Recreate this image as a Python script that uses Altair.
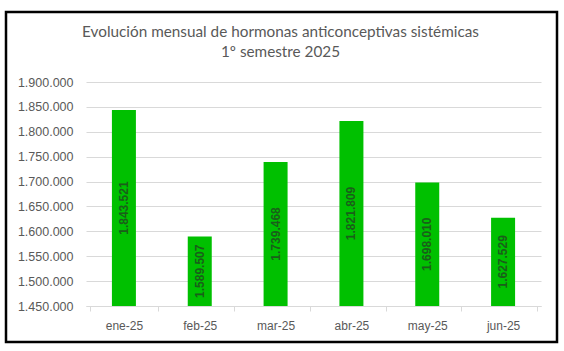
import altair as alt
import pandas as pd

months = ["ene-25", "feb-25", "mar-25", "abr-25", "may-25", "jun-25"]
values = [1843521, 1589507, 1739468, 1821809, 1698010, 1627529]
y_ticks = [1450000, 1500000, 1550000, 1600000, 1650000, 1700000, 1750000, 1800000, 1850000, 1900000]
y_min = 1450000
y_max = 1900000
title_lines = ["Evolución mensual de hormonas anticonceptivas sistémicas", "1º semestre 2025"]

df = pd.DataFrame({"mes": months, "valor": values})

fmt = "replace(format(datum.value, ','), regexp(',', 'g'), '.')"

x_axis = alt.Axis(labelAngle=0, labelFont="Liberation Sans", labelFontSize=12,
                  labelColor="#595959", labelPadding=9, tickBand="extent",
                  tickColor="#d9d9d9", tickSize=5, domainColor="#d9d9d9",
                  domainWidth=1, grid=False, title=None)
y_axis = alt.Axis(values=y_ticks, labelExpr=fmt, labelFont="Liberation Sans",
                  labelFontSize=12.5, labelColor="#595959", labelPadding=13,
                  labelOverlap=False, tickSize=0, domain=False, grid=True,
                  gridColor="#d9d9d9", gridWidth=1, title=None)
y_scale = alt.Scale(domain=[y_min, y_max], nice=False, zero=False)

base = alt.Chart(df)

bars = base.mark_bar(color="#00c000", size=24, clip=True).encode(
    x=alt.X("mes:N", sort=months, axis=x_axis),
    y=alt.Y("valor:Q", scale=y_scale, axis=y_axis),
    y2=alt.datum(y_min),
)

labels = base.transform_calculate(
    mid=f"(datum.valor + {y_min}) / 2",
    txt="replace(format(datum.valor, ','), regexp(',', 'g'), '.')",
).mark_text(angle=270, align="center", baseline="middle", font="Liberation Sans",
            fontSize=12, fontWeight="bold", color="#1a5e1a").encode(
    x=alt.X("mes:N", sort=months, axis=x_axis),
    y=alt.Y("mid:Q", scale=y_scale, axis=y_axis),
    text="txt:N",
)

border = alt.Chart(pd.DataFrame({"a": [0]})).mark_rect(
    fill=None, stroke="black", strokeWidth=2.5, clip=False
).encode(
    x=alt.value(-80), x2=alt.value(471), y=alt.value(-70), y2=alt.value(260)
)

chart = alt.layer(bars, labels, border).properties(
    width=455, height=224,
    title=alt.TitleParams(text=title_lines, font="Lato", fontSize=15.3, fontWeight="normal",
                          color="#595959", anchor="middle", dx=-33, offset=22, dy=72,
                          lineHeight=20, frame="group"),
    autosize=alt.AutoSizeParams(type="none"),
    padding={"left": 86, "top": 82, "right": 23, "bottom": 45},
    background="white",
).configure_view(stroke=None)

chart.save("out.html", embed_options={"renderer": "svg", "actions": False})
